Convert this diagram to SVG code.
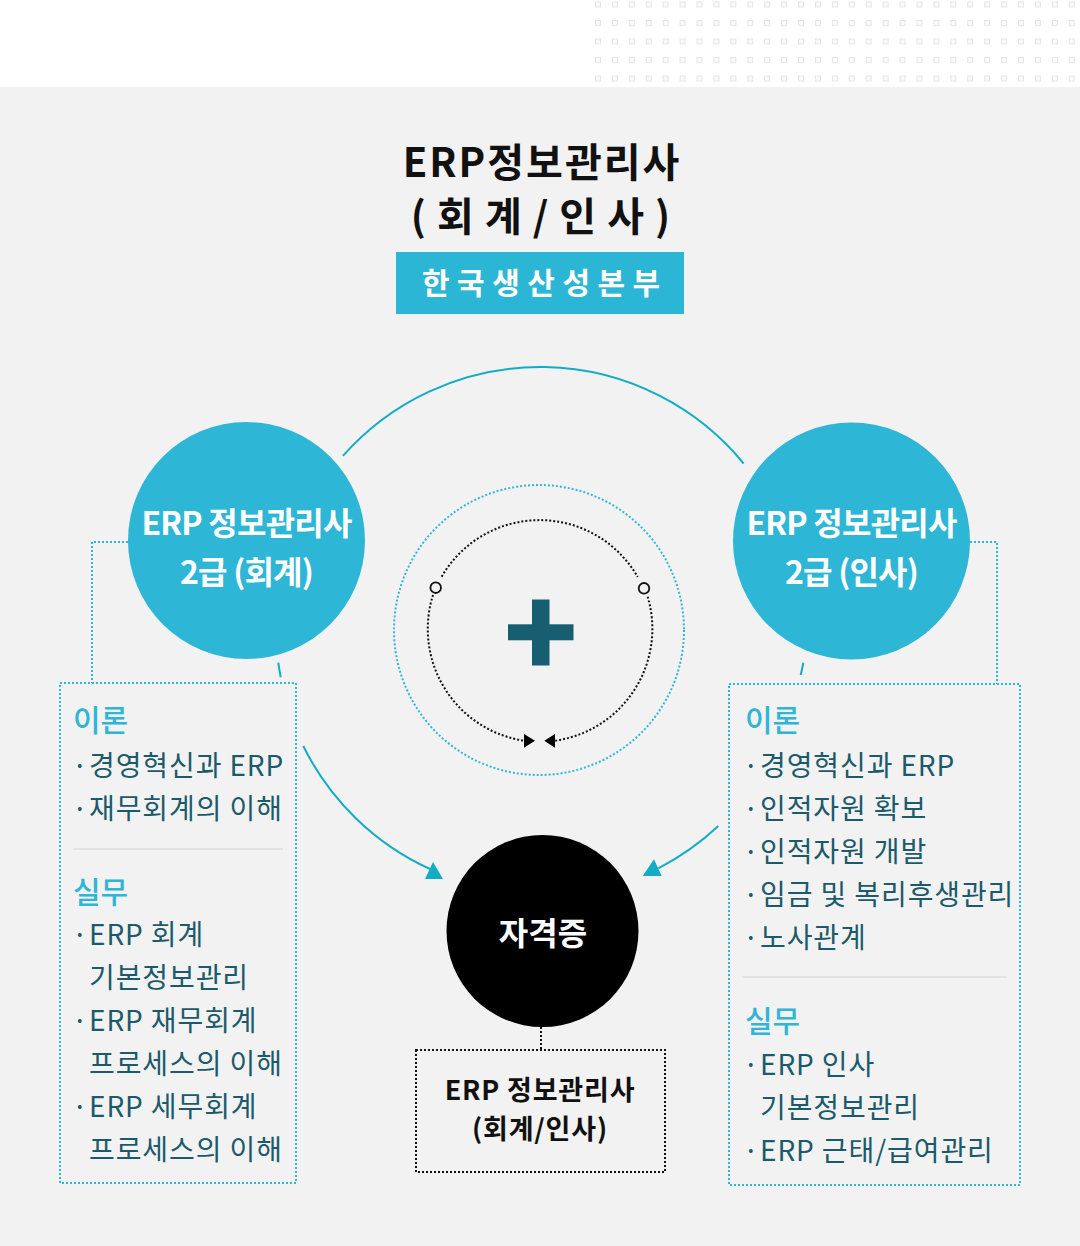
<svg xmlns="http://www.w3.org/2000/svg" width="1080" height="1246" viewBox="0 0 1080 1246">
<defs>
<style>
.kr{font-family:"Noto Sans CJK KR","Noto Sans",sans-serif;}
.title{font-size:40px;font-weight:700;fill:#111;}
.ctext{font-size:32px;font-weight:700;fill:#fff;letter-spacing:-0.8px;text-anchor:middle;}
.head{font-size:30px;font-weight:500;fill:#2fb5d5;}
.item{font-size:28px;font-weight:400;fill:#1b5a6b;letter-spacing:0.9px;}
.cdot{fill:none;stroke:#2fb7d6;stroke-width:2;stroke-dasharray:2 2;}
.bdot{fill:none;stroke:#111;stroke-width:2;stroke-dasharray:2 2;}
.arc{fill:none;stroke:#12adc4;stroke-width:2;}
.sep{stroke:#d2d2d2;stroke-width:1;}
</style>
<pattern id="dots" x="595" y="1.5" width="16.92" height="18.5" patternUnits="userSpaceOnUse">
<rect x="0.5" y="0.5" width="5" height="5" fill="#fbfbfb" stroke="#e4e4e4" stroke-width="1"/>
</pattern>
</defs>
<rect x="0" y="0" width="1080" height="1246" fill="#f2f2f2"/>
<rect x="0" y="0" width="1080" height="87" fill="#ffffff"/>
<rect x="595" y="0" width="485" height="84" fill="url(#dots)"/>

<g id="title">
<text class="kr title" x="542" y="177" text-anchor="middle" letter-spacing="2">ERP정보관리사</text>
<text class="kr title" x="541" y="231" text-anchor="middle" letter-spacing="1">( 회 계 / 인 사 )</text>
<rect x="396" y="252" width="288" height="62" fill="#2cb6d6"/>
<text class="kr" x="422" y="294" font-size="30" font-weight="700" fill="#fff" letter-spacing="7.5">한국생산성본부</text>
</g>

<g id="connectors">
<path class="arc" d="M 342.9 455.9 A 263 263 0 0 1 743.6 463.5"/>
<path class="arc" d="M 278.3 662.7 A 263 263 0 0 0 280.7 677.3"/>
<path class="arc" d="M 303.3 746 A 263 263 0 0 0 430 869"/>
<polygon points="433,862 425,879 443,879" fill="#12adc4"/>
<path class="arc" d="M 803.3 662.7 A 264 264 0 0 1 800.7 675"/>
<path class="arc" d="M 718.3 826 A 264 264 0 0 1 658.3 868.3"/>
<polygon points="654,859.3 642.7,876 661.7,876" fill="#12adc4"/>
<polyline class="cdot" points="128,542 92,542 92,683"/>
<polyline class="cdot" points="970,542 997,542 997,684"/>
<line class="bdot" x1="541" y1="1027" x2="541" y2="1050"/>
</g>

<g id="center-plus">
<circle class="cdot" cx="539" cy="630" r="145"/>
<path class="bdot" d="M 441.7 576.7 A 113 113 0 0 1 637.7 577"/>
<path class="bdot" d="M 433 595 A 113 113 0 0 0 524 740.7"/>
<path class="bdot" d="M 647.7 596.7 A 113 113 0 0 1 555 740.7"/>
<circle cx="435.7" cy="587.7" r="5.3" fill="none" stroke="#111" stroke-width="1.8"/>
<circle cx="644" cy="588.3" r="5.3" fill="none" stroke="#111" stroke-width="1.8"/>
<polygon points="524,734 524,747.7 535,740.7" fill="#000"/>
<polygon points="555,734 555,747.7 544.3,740.7" fill="#000"/>
<rect x="532" y="599.5" width="17.5" height="66" fill="#175f70"/>
<rect x="508" y="624.3" width="65.5" height="16" fill="#175f70"/>
</g>

<g id="node-accounting">
<circle cx="246.5" cy="540.5" r="118.5" fill="#2eb6d6"/>
<text class="kr ctext" x="246.5" y="535">ERP 정보관리사</text>
<text class="kr ctext" x="246.5" y="584">2급 (회계)</text>
</g>

<g id="node-hr">
<circle cx="851.5" cy="541" r="118.5" fill="#2eb6d6"/>
<text class="kr ctext" x="851.5" y="535">ERP 정보관리사</text>
<text class="kr ctext" x="851.5" y="584">2급 (인사)</text>
</g>

<g id="box-accounting">
<rect class="cdot" x="60" y="683" width="236" height="500"/>
<text class="kr head" x="73" y="731">이론</text>
<text class="kr item" y="776"><tspan x="72">·</tspan><tspan x="89">경영혁신과 ERP</tspan></text>
<text class="kr item" y="819"><tspan x="72">·</tspan><tspan x="89">재무회계의 이해</tspan></text>
<line class="sep" x1="74" y1="849" x2="283" y2="849"/>
<text class="kr head" x="73" y="903">실무</text>
<text class="kr item" y="945"><tspan x="72">·</tspan><tspan x="89">ERP 회계</tspan></text>
<text class="kr item" x="89" y="988">기본정보관리</text>
<text class="kr item" y="1031"><tspan x="72">·</tspan><tspan x="89">ERP 재무회계</tspan></text>
<text class="kr item" x="89" y="1074">프로세스의 이해</text>
<text class="kr item" y="1117"><tspan x="72">·</tspan><tspan x="89">ERP 세무회계</tspan></text>
<text class="kr item" x="89" y="1160">프로세스의 이해</text>
</g>

<g id="box-hr">
<rect class="cdot" x="729" y="684" width="291" height="501"/>
<text class="kr head" x="745" y="731">이론</text>
<text class="kr item" y="776"><tspan x="743">·</tspan><tspan x="760">경영혁신과 ERP</tspan></text>
<text class="kr item" y="819"><tspan x="743">·</tspan><tspan x="760">인적자원 확보</tspan></text>
<text class="kr item" y="862"><tspan x="743">·</tspan><tspan x="760">인적자원 개발</tspan></text>
<text class="kr item" y="905"><tspan x="743">·</tspan><tspan x="760">임금 및 복리후생관리</tspan></text>
<text class="kr item" y="948"><tspan x="743">·</tspan><tspan x="760">노사관계</tspan></text>
<line class="sep" x1="742" y1="977" x2="1006" y2="977"/>
<text class="kr head" x="745" y="1032">실무</text>
<text class="kr item" y="1075"><tspan x="743">·</tspan><tspan x="760">ERP 인사</tspan></text>
<text class="kr item" x="760" y="1118">기본정보관리</text>
<text class="kr item" y="1161"><tspan x="743">·</tspan><tspan x="760">ERP 근태/급여관리</tspan></text>
</g>

<g id="node-certificate">
<circle cx="542.5" cy="931" r="96" fill="#000"/>
<text class="kr" x="543" y="945" font-size="32" font-weight="700" fill="#fff" text-anchor="middle">자격증</text>
</g>

<g id="box-certificate">
<rect class="bdot" x="416" y="1050" width="249" height="122"/>
<text class="kr" x="540" y="1100" font-size="27" font-weight="700" fill="#111" text-anchor="middle" letter-spacing="0.8">ERP 정보관리사</text>
<text class="kr" x="540" y="1139" font-size="27" font-weight="700" fill="#111" text-anchor="middle" letter-spacing="0.8">(회계/인사)</text>
</g>
</svg>
